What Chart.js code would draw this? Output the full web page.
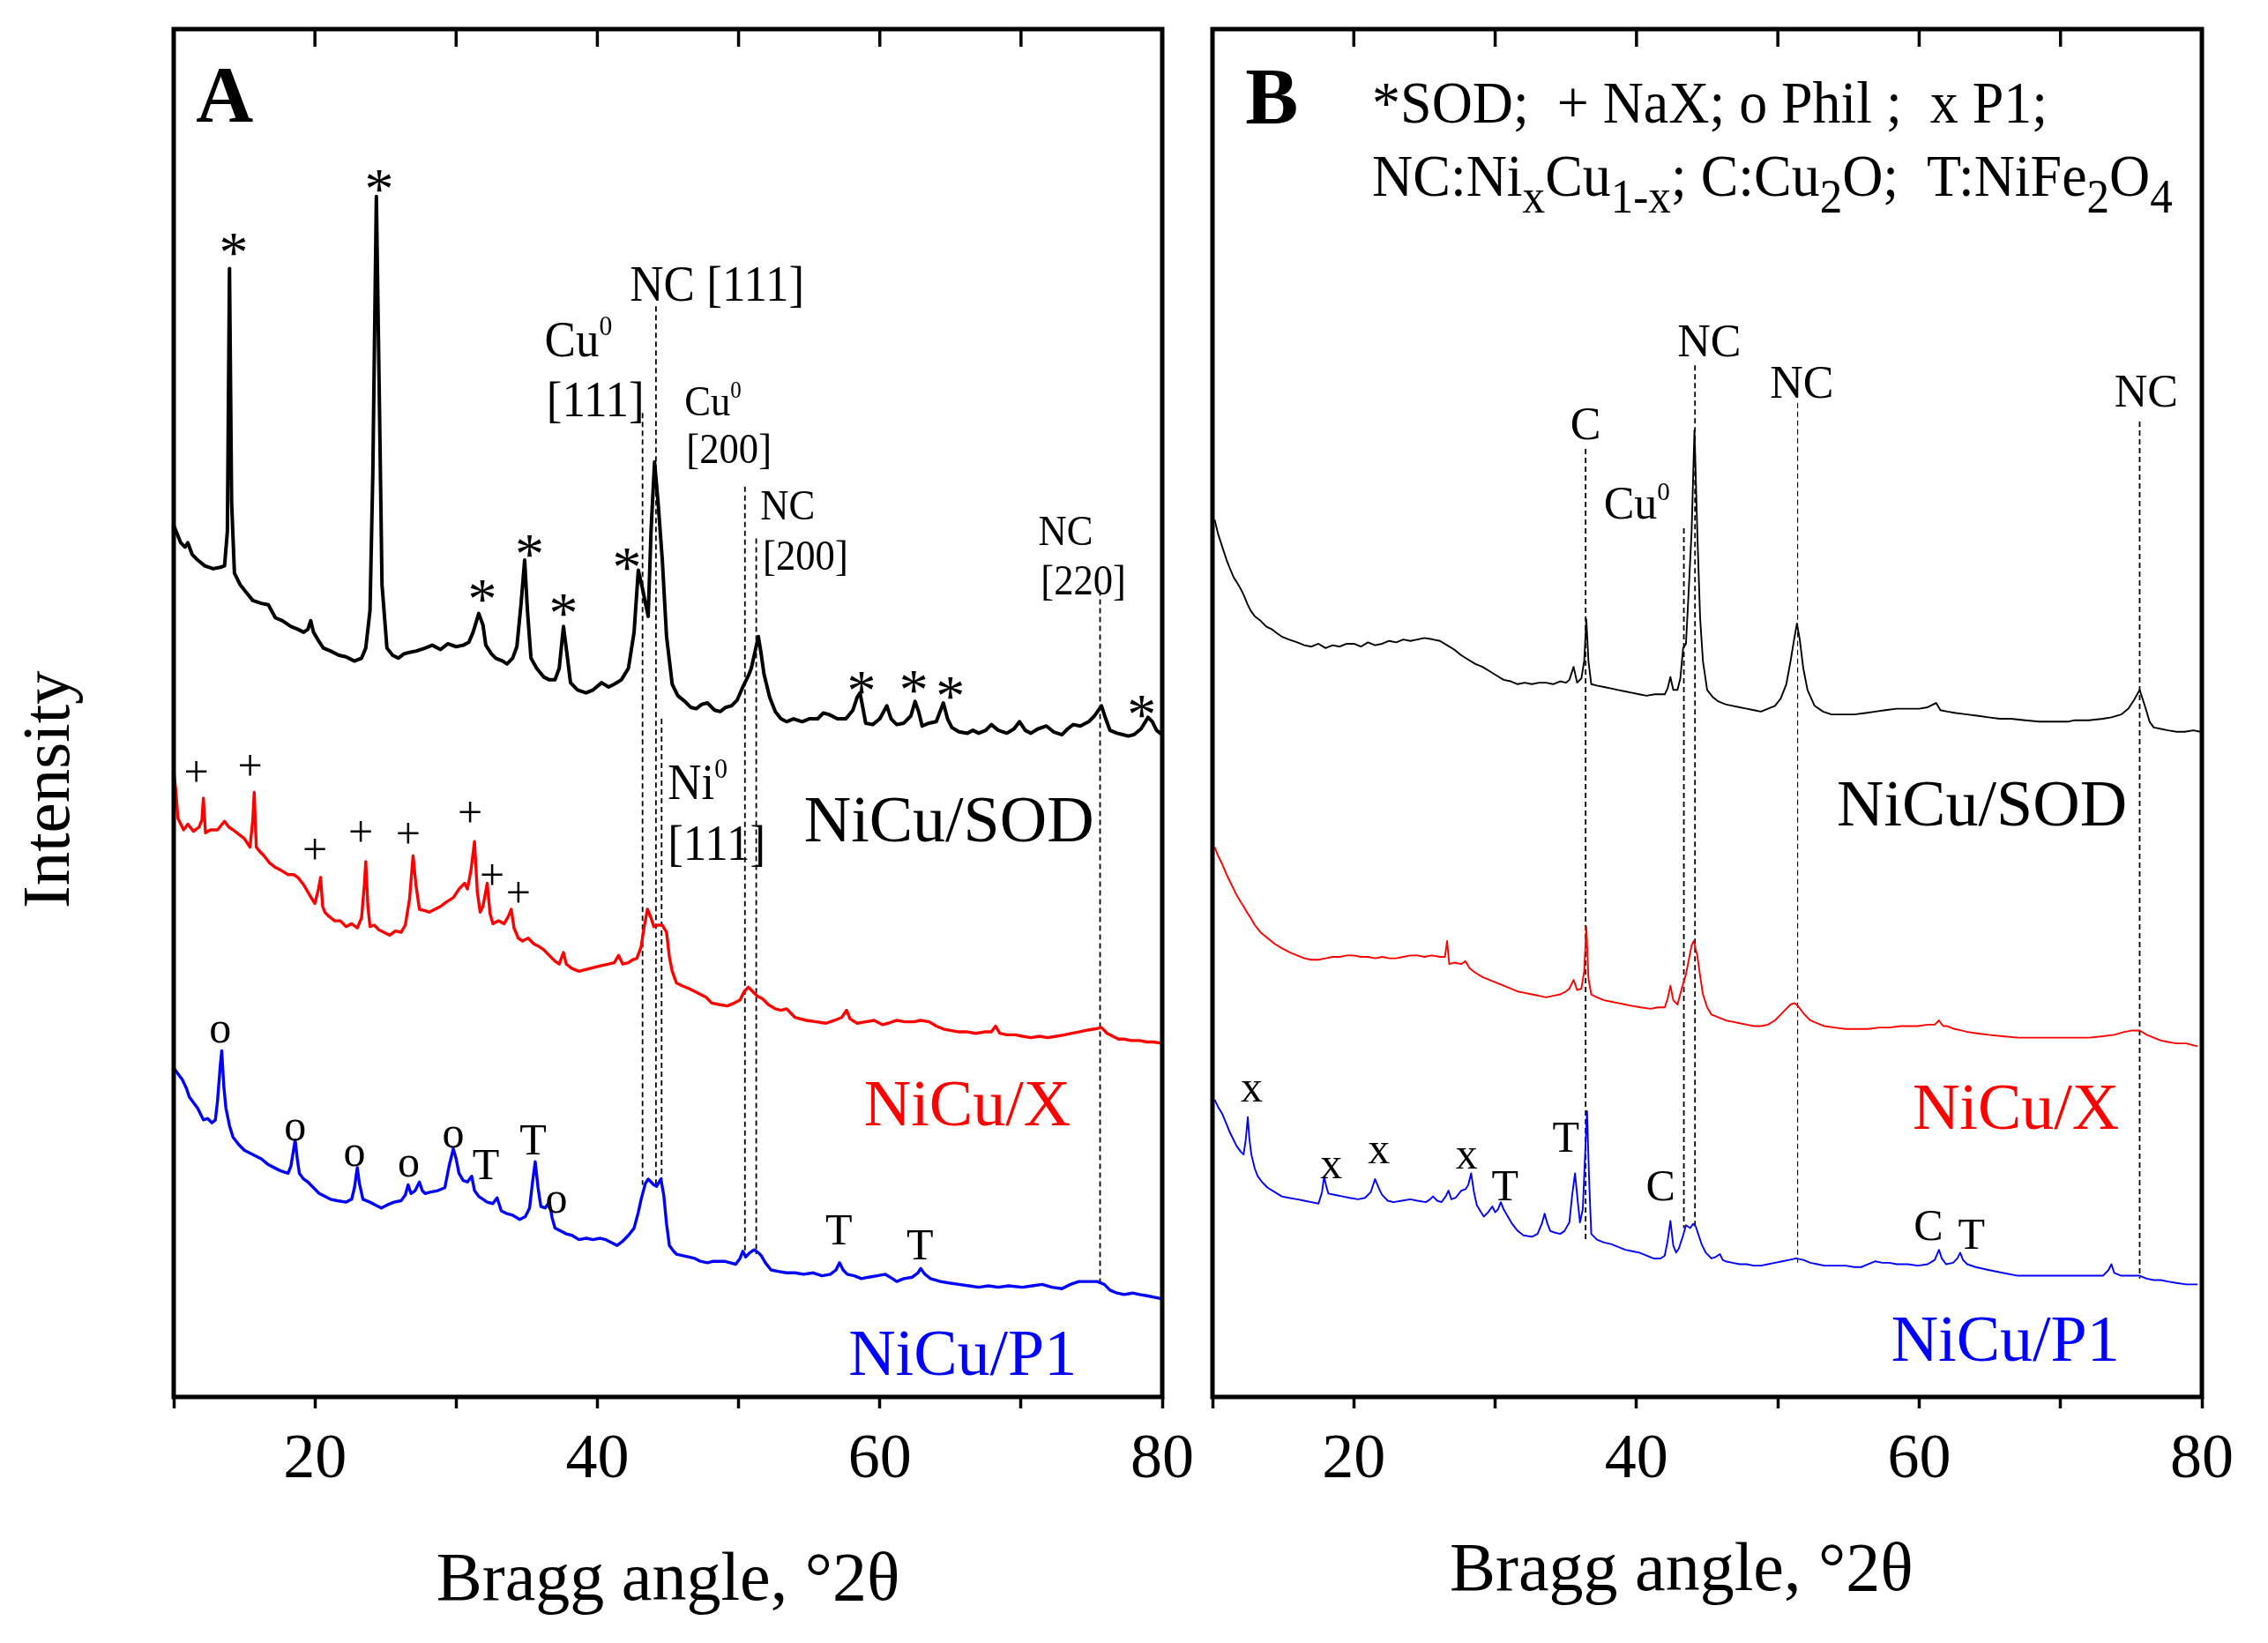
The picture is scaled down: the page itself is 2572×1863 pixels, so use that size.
<!DOCTYPE html>
<html>
<head>
<meta charset="utf-8">
<script src="https://cdn.jsdelivr.net/npm/chart.js@4.4.1/dist/chart.umd.min.js"></script>
<style>
  html, body { margin: 0; padding: 0; background: #fff; }
  .panel { position: absolute; left: 0; top: 0; }
</style>
</head>
<body>
<div class="panel"><canvas id="chartA" width="2572" height="1863"></canvas></div>
<div class="panel"><canvas id="chartB" width="2572" height="1863"></canvas></div>
<script>
// XRD patterns: [2theta, intensity (offset, arb. units)]
const sodA = [[10.0,604],[10.5,592],[10.8,589],[11.0,592],[11.3,584],[11.7,580],[12.2,576],[12.8,574],[13.3,575],[13.6,576],
  [13.8,600],[13.95,782],[14.1,620],[14.3,571],[14.7,563],[15.1,558],[15.6,552],[16.2,550],[16.7,549],[17.2,540],[17.7,538],
  [18.3,534],[18.8,532],[19.2,530],[19.5,532],[19.7,538],[19.9,530],[20.2,525],[20.6,519],[21.1,517],[21.7,514],[22.2,513],
  [22.8,510],[23.3,512],[23.6,519],[23.9,545],[24.1,640],[24.35,832],[24.55,700],[24.75,563],[25.1,519],[25.5,514],[25.9,512],
  [26.3,515],[26.7,516],[27.2,517],[27.8,519],[28.3,521],[28.9,518],[29.4,522],[30.0,520],[30.5,521],[30.9,523],[31.2,530],
  [31.6,543],[31.9,535],[32.1,521],[32.5,515],[32.8,512],[33.3,510],[33.6,508],[34.0,512],[34.3,520],[34.6,550],[34.85,580],
  [35.05,545],[35.3,512],[35.7,505],[36.2,499],[36.6,497],[37.0,497],[37.3,505],[37.6,534],[37.85,515],[38.1,495],[38.6,490],
  [39.2,488],[39.7,490],[40.3,495],[40.8,492],[41.2,494],[41.7,497],[42.2,505],[42.6,530],[42.9,573],[43.2,560],[43.45,548],
  [43.6,541],[43.8,600],[44.05,648],[44.3,620],[44.6,580],[44.9,527],[45.3,494],[45.7,486],[46.2,482],[46.6,478],[47.0,477],
  [47.4,480],[47.8,481],[48.3,476],[48.7,475],[49.1,478],[49.5,479],[49.9,483],[50.3,492],[50.7,500],[50.9,505],[51.2,518],
  [51.4,527],[51.6,515],[51.8,501],[52.2,485],[52.6,475],[53.0,470],[53.4,468],[53.9,470],[54.5,468],[55.0,470],[55.6,470],
  [56.0,474],[56.4,473],[57.0,470],[57.6,470],[58.1,476],[58.4,485],[58.6,488],[58.85,475],[59.0,467],[59.5,466],[60.0,470],
  [60.5,479],[60.8,470],[61.2,466],[61.7,467],[62.2,472],[62.5,482],[62.75,475],[63.0,465],[63.5,467],[64.0,468],[64.5,481],
  [64.8,470],[65.1,464],[65.6,461],[66.2,460],[66.6,462],[67.0,460],[67.5,462],[67.9,466],[68.4,462],[69.0,460],[69.5,463],
  [69.9,468],[70.3,462],[70.7,460],[71.2,463],[71.8,465],[72.3,461],[72.9,459],[73.3,463],[73.7,466],[74.2,465],[74.8,468],
  [75.2,472],[75.7,479],[76.0,470],[76.3,462],[76.8,460],[77.2,459],[77.6,458],[78.0,459],[78.5,463],[79.0,471],[79.3,468],
  [79.6,462],[80.0,459]];

const naxA = [[10.0,434],[10.15,420],[10.3,401],[10.7,393],[11.0,397],[11.4,392],[11.8,395],[12.0,400],[12.1,415],[12.25,391],
  [12.6,393],[13.1,393],[13.6,399],[13.9,395],[14.2,393],[14.6,390],[15.0,387],[15.4,381],[15.6,400],[15.7,419],[15.85,381],
  [16.1,378],[16.4,375],[16.8,370],[17.2,367],[17.6,365],[18.1,362],[18.5,362],[18.8,360],[19.2,355],[19.5,350],[19.8,345],
  [20.0,342],[20.25,352],[20.4,360],[20.55,340],[20.7,336],[21.0,333],[21.4,330],[21.8,330],[22.2,326],[22.6,328],[23.0,325],
  [23.3,332],[23.5,355],[23.6,371],[23.75,340],[23.9,326],[24.2,327],[24.5,324],[24.9,322],[25.3,320],[25.7,323],[26.1,322],
  [26.4,327],[26.7,345],[26.95,375],[27.15,355],[27.4,338],[27.8,337],[28.1,336],[28.5,338],[28.9,340],[29.3,343],[29.8,346],
  [30.2,352],[30.6,356],[30.8,352],[31.05,365],[31.3,385],[31.5,350],[31.7,336],[31.9,340],[32.2,356],[32.4,335],[32.6,328],
  [33.0,330],[33.4,328],[33.7,333],[33.9,338],[34.1,325],[34.4,318],[34.7,316],[35.1,318],[35.5,314],[35.9,312],[36.2,310],
  [36.6,306],[37.0,302],[37.3,300],[37.6,308],[37.8,300],[38.2,297],[38.7,295],[39.1,296],[39.5,297],[39.9,298],[40.3,299],
  [40.8,300],[41.2,301],[41.5,306],[41.8,300],[42.2,301],[42.5,303],[42.8,304],[43.1,312],[43.3,325],[43.55,338],[43.8,332],
  [44.0,326],[44.3,327],[44.6,327],[44.9,322],[45.1,305],[45.3,295],[45.6,287],[46.0,285],[46.5,283],[46.9,281],[47.3,279],
  [47.7,277],[48.1,273],[48.6,272],[49.2,271],[49.7,273],[50.1,275],[50.4,281],[50.7,284],[51.0,281],[51.3,278],[51.7,276],
  [52.1,272],[52.6,269],[53.0,268],[53.4,269],[53.7,266],[54.0,263],[54.4,262],[54.8,261],[55.5,260],[56.2,259],[56.8,261],
  [57.3,263],[57.65,268],[57.9,262],[58.4,259],[59.0,260],[59.6,261],[60.2,258],[60.6,259],[61.2,261],[61.8,260],[62.4,260],
  [62.9,261],[63.5,260],[64.0,257],[64.5,255],[65.0,254],[65.6,253],[66.2,253],[66.8,252],[67.4,253],[67.9,253],[68.2,257],
  [68.5,252],[69.0,251],[69.6,251],[70.1,250],[70.7,249],[71.3,250],[71.9,249],[72.5,250],[73.1,251],[73.6,252],[74.1,253],
  [74.6,254],[75.2,255],[75.7,256],[76.1,252],[76.5,250],[76.9,248],[77.3,248],[77.8,247],[78.4,247],[78.9,246],[79.4,246],
  [80.0,245]];

const p1A = [[10.0,228],[10.3,224],[10.6,220],[10.9,214],[11.1,208],[11.4,204],[11.7,200],[11.9,196],[12.1,192],[12.4,193],
  [12.7,190],[12.95,192],[13.1,205],[13.3,230],[13.4,240],[13.55,215],[13.7,200],[13.95,188],[14.2,180],[14.6,175],[15.0,171],
  [15.4,169],[15.8,167],[16.2,165],[16.7,161],[17.1,159],[17.5,157],[17.8,156],[18.1,155],[18.3,160],[18.5,172],[18.6,178],
  [18.75,165],[18.9,155],[19.2,151],[19.5,149],[19.9,145],[20.3,141],[20.7,139],[21.1,137],[21.6,136],[22.2,135],[22.6,137],
  [22.8,145],[23.0,159],[23.15,148],[23.4,137],[23.9,135],[24.3,133],[24.7,131],[25.1,133],[25.6,135],[26.1,136],[26.4,140],
  [26.6,147],[26.8,141],[27.1,143],[27.4,149],[27.6,143],[27.8,141],[28.2,142],[28.7,143],[29.2,145],[29.5,160],[29.8,172],
  [30.0,165],[30.2,155],[30.5,150],[30.8,149],[31.1,153],[31.3,143],[31.6,139],[31.9,137],[32.2,135],[32.6,134],[32.9,138],
  [33.2,129],[33.6,127],[34.0,126],[34.5,123],[34.9,125],[35.2,131],[35.4,148],[35.6,163],[35.8,145],[36.0,132],[36.3,131],
  [36.6,135],[36.8,124],[37.0,117],[37.4,115],[37.8,113],[38.2,112],[38.7,109],[39.2,110],[39.7,109],[40.2,110],[40.6,109],
  [41.0,107],[41.4,105],[41.8,108],[42.2,112],[42.6,117],[42.9,128],[43.1,137],[43.4,148],[43.6,151],[43.8,149],[44.0,147],
  [44.2,146],[44.5,151],[44.7,140],[44.9,120],[45.1,105],[45.4,101],[45.6,99],[46.0,98],[46.5,97],[46.9,96],[47.3,94],
  [47.8,93],[48.2,94],[48.6,94],[49.0,94],[49.4,93],[49.8,92],[50.1,96],[50.3,101],[50.5,97],[50.8,100],[51.1,102],[51.4,100],
  [51.6,98],[51.9,93],[52.3,88],[52.8,87],[53.4,86],[54.0,86],[54.6,85],[55.3,86],[55.9,84],[56.5,85],[56.9,88],[57.15,93],
  [57.4,88],[57.7,85],[58.2,84],[58.7,82],[59.2,83],[59.8,84],[60.4,85],[60.9,82],[61.2,80],[61.7,82],[62.3,83],[62.7,86],
  [62.9,89],[63.2,85],[63.6,82],[64.3,80],[64.9,79],[65.6,78],[66.3,77],[67.0,76],[67.7,77],[68.4,76],[69.1,77],[70.1,76],
  [70.8,77],[71.5,78],[72.2,76],[72.9,75],[73.5,78],[74.1,80],[74.8,80],[75.4,80],[75.9,78],[76.3,74],[76.8,72],[77.3,71],
  [77.9,72],[78.4,71],[79.0,70],[79.5,69],[80.0,68]];

const sodB = [[10.15,608],[10.4,598],[10.7,589],[11.0,580],[11.2,575],[11.5,568],[11.7,565],[12.0,560],[12.2,556],[12.5,549],
  [12.7,545],[13.0,541],[13.4,538],[13.8,534],[14.2,532],[14.6,529],[14.9,527],[15.4,525],[16.0,523],[16.5,521],[17.0,520],
  [17.5,522],[18.0,519],[18.5,521],[19.0,520],[19.5,522],[20.0,522],[20.5,520],[21.0,523],[21.5,521],[22.0,522],[22.5,524],
  [23.0,523],[23.5,525],[24.0,524],[24.5,525],[25.0,526],[25.6,525],[26.1,524],[26.6,521],[27.1,518],[27.6,514],[28.1,511],
  [28.6,508],[29.1,506],[29.6,503],[30.1,500],[30.6,497],[31.1,496],[31.6,494],[32.1,495],[32.6,494],[33.1,495],[33.6,495],
  [34.1,494],[34.6,496],[35.0,495],[35.25,497],[35.55,506],[35.8,495],[36.1,498],[36.3,510],[36.45,539],[36.6,510],[36.8,494],
  [37.2,493],[37.7,492],[38.2,491],[38.7,490],[39.2,489],[39.7,488],[40.2,487],[40.7,486],[41.3,487],[42.0,487],[42.2,491],
  [42.4,499],[42.6,490],[42.9,490],[43.1,498],[43.3,519],[43.5,522],[43.7,560],[43.9,600],[44.1,670],[44.3,600],[44.5,540],
  [44.7,510],[45.0,490],[45.4,485],[45.8,482],[46.3,480],[46.8,479],[47.3,478],[47.8,477],[48.3,476],[48.8,475],[49.3,477],
  [49.8,479],[50.2,484],[50.6,494],[50.9,510],[51.15,525],[51.35,536],[51.55,525],[51.8,505],[52.1,490],[52.6,479],[53.2,475],
  [53.8,473],[54.5,473],[55.4,473],[56.2,474],[56.9,475],[57.6,476],[58.4,477],[59.2,477],[60.0,477],[60.6,478],[61.2,481],
  [61.5,476],[62.0,475],[62.6,474],[63.4,473],[64.2,472],[64.9,471],[65.7,470],[66.5,470],[67.5,469],[68.5,468],[69.5,468],
  [70.5,468],[71.0,469],[72.0,469],[73.0,470],[73.6,471],[74.3,473],[74.8,477],[75.2,483],[75.6,490],[76.0,478],[76.3,468],
  [76.6,464],[77.1,463],[77.6,462],[78.2,461],[78.8,461],[79.4,462],[79.9,461]];

const naxB = [[10.15,381],[10.4,375],[10.7,369],[11.0,362],[11.2,358],[11.5,352],[11.7,348],[12.0,343],[12.2,340],[12.5,335],
  [12.7,332],[13.0,327],[13.4,322],[13.9,318],[14.4,314],[14.9,311],[15.5,308],[16.0,306],[16.5,304],[17.0,303],[17.5,303],
  [18.0,304],[18.5,305],[19.0,305],[19.5,306],[20.0,306],[20.5,305],[21.0,305],[21.5,304],[22.0,305],[22.5,304],[23.0,304],
  [23.5,305],[24.0,306],[24.5,306],[25.0,305],[25.5,306],[26.1,305],[26.45,305],[26.6,316],[26.75,300],[27.1,301],[27.6,300],
  [27.9,302],[28.2,297],[28.6,294],[29.1,291],[29.6,289],[30.1,287],[30.6,285],[31.1,283],[31.6,281],[32.1,280],[32.6,279],
  [33.1,278],[33.6,277],[34.1,278],[34.6,279],[35.0,281],[35.25,283],[35.55,289],[35.8,282],[36.1,283],[36.3,295],[36.45,326],
  [36.6,290],[36.8,279],[37.2,277],[37.7,275],[38.2,274],[38.7,273],[39.2,272],[39.7,271],[40.3,270],[41.0,269],[41.5,270],
  [42.0,270],[42.2,276],[42.4,285],[42.6,275],[42.9,272],[43.2,283],[43.5,293],[43.7,303],[43.9,313],[44.05,316],[44.3,306],
  [44.5,292],[44.7,279],[45.0,270],[45.3,265],[45.8,263],[46.3,261],[46.8,260],[47.3,259],[47.8,258],[48.3,257],[48.8,257],
  [49.3,258],[49.8,261],[50.2,265],[50.6,269],[50.9,272],[51.2,273],[51.5,270],[51.8,266],[52.3,261],[52.8,259],[53.3,257],
  [54.0,256],[54.8,255],[55.6,255],[56.4,255],[57.2,256],[57.9,256],[58.7,257],[59.4,257],[59.9,257],[60.6,258],[61.1,258],
  [61.4,261],[61.7,257],[62.0,257],[62.5,255],[63.0,254],[63.4,253],[64.1,252],[64.9,251],[65.9,250],[67.0,249],[68.0,249],
  [69.0,249],[70.0,249],[71.0,249],[72.0,249],[73.0,250],[73.8,251],[74.5,253],[75.1,254],[75.6,254],[76.1,251],[76.6,249],
  [77.1,247],[77.6,246],[78.2,245],[78.9,245],[79.3,244],[79.7,243]];

const p1B = [[10.15,206],[10.4,201],[10.7,196],[11.0,189],[11.2,184],[11.5,178],[11.7,174],[12.0,170],[12.2,168],[12.35,178],
  [12.5,194],[12.6,180],[12.75,168],[13.0,158],[13.2,153],[13.5,149],[13.9,145],[14.4,142],[14.9,139],[15.4,138],[16.0,137],
  [16.5,136],[17.0,135],[17.5,134],[17.75,142],[17.9,153],[18.05,146],[18.2,141],[18.7,140],[19.2,139],[19.7,138],[20.3,137],
  [20.8,138],[21.2,142],[21.5,151],[21.8,144],[22.0,140],[22.4,136],[22.8,135],[23.4,136],[24.0,137],[24.5,136],[25.1,135],
  [25.4,137],[25.6,139],[25.9,136],[26.2,135],[26.5,139],[26.7,143],[26.9,137],[27.2,138],[27.6,143],[27.9,144],[28.1,147],
  [28.3,155],[28.5,142],[28.7,133],[29.0,128],[29.2,125],[29.5,128],[29.8,132],[30.0,128],[30.2,130],[30.4,135],[30.6,130],
  [30.9,125],[31.2,120],[31.6,115],[32.0,112],[32.6,111],[33.0,113],[33.3,120],[33.5,127],[33.7,120],[33.9,115],[34.2,114],
  [34.6,113],[34.9,115],[35.25,121],[35.45,140],[35.65,155],[35.85,135],[36.0,121],[36.2,130],[36.35,165],[36.5,198],
  [36.65,150],[36.8,113],[37.2,109],[37.7,107],[38.2,106],[38.7,104],[39.2,102],[39.7,101],[40.2,100],[40.7,98],[41.2,96],
  [41.7,96],[42.0,98],[42.2,108],[42.4,122],[42.6,105],[42.8,100],[43.0,103],[43.3,112],[43.5,119],[43.8,117],[44.0,120],
  [44.2,118],[44.4,112],[44.6,106],[44.9,100],[45.3,96],[45.6,97],[45.9,99],[46.1,95],[46.3,94],[46.8,93],[47.3,92],[47.8,92],
  [48.3,91],[48.8,91],[49.3,92],[49.8,93],[50.3,94],[50.8,95],[51.3,96],[51.8,95],[52.3,93],[52.8,92],[53.3,91],[54.0,91],
  [54.8,91],[55.4,90],[55.9,90],[56.4,92],[56.9,94],[57.4,93],[57.9,93],[58.4,92],[59.2,92],[59.9,91],[60.6,92],[61.1,95],
  [61.4,102],[61.6,96],[61.9,92],[62.4,93],[62.7,96],[62.9,100],[63.1,95],[63.4,92],[64.0,90],[64.9,88],[65.9,86],[67.0,84],
  [68.0,84],[69.0,84],[70.0,84],[71.0,84],[72.0,84],[73.0,84],[73.4,88],[73.6,92],[73.8,86],[74.3,84],[75.1,84],[75.6,84],
  [76.1,82],[76.6,81],[77.1,81],[77.6,80],[78.2,79],[78.9,78],[79.4,78],[79.7,78]];

// dashed reference lines: [2theta, top, bottom, width]
const refA = [[43.2,682,147,1.8],[44.15,756,147,1.8],[44.55,470,147,1.8],[50.45,631,99,1.8],[51.25,595,99,1.8],[75.6,559,78,1.8]];
const refB = [[36.4,657,107,1.8],[43.35,602,117,1.8],[44.14,715,117,1.8],[51.4,689,93,1.1],[75.6,676,82,1.8]];

const xTicks = [10, 20, 30, 40, 50, 60, 70, 80];
const xTickLabels = ['', '20', '', '40', '', '60', '', '80'];
const xTitle = 'Bragg angle, \u00b02\u03b8';

// text labels: [text, 2theta, height, style, align]
const labelsA = [
  ['A', 13.6, 902, 'big'],
  ['NC [111]', 48.48, 771.5, 'pk'],
  ['Cu^{0}', 36.26, 733, 'pk', 'left'],
  ['[111]', 36.4, 691, 'pk', 'left'],
  ['Cu^{0}', 46.17, 690, 'pks', 'left'],
  ['[200]', 46.3, 657, 'pks', 'left'],
  ['NC', 51.54, 618, 'pks', 'left'],
  ['[200]', 51.72, 583, 'pks', 'left'],
  ['NC', 71.22, 600, 'pks', 'left'],
  ['[220]', 71.4, 566, 'pks', 'left'],
  ['Ni^{0}', 44.98, 426, 'pk', 'left'],
  ['[111]', 44.98, 384, 'pk', 'left'],
  ['NiCu/SOD', 64.9, 400, 'sod'],
  ['NiCu/X', 66.2, 203, 'nx'],
  ['NiCu/P1', 65.87, 30, 'p1'],
  ['*', 14.25, 799, 'ast'], ['*', 24.55, 842.7, 'ast'], ['*', 31.86, 558.8, 'ast'], ['*', 35.2, 589.6, 'ast'],
  ['*', 37.6, 548.8, 'ast'], ['*', 42.1, 580.5, 'ast'], ['*', 58.7, 495, 'ast'], ['*', 62.4, 496, 'ast'],
  ['*', 65.0, 491.6, 'ast'], ['*', 78.55, 478.7, 'ast'],
  ['+', 11.6, 431, 'mk'], ['+', 15.4, 435, 'mk'], ['+', 20.0, 377, 'mk'], ['+', 23.24, 389, 'mk'],
  ['+', 26.6, 388, 'mk'], ['+', 30.98, 402.7, 'mk'], ['+', 32.55, 359.4, 'mk'], ['+', 34.4, 346.8, 'mk'],
  ['o', 13.3, 253, 'mk'], ['o', 18.6, 185, 'mk'], ['o', 22.8, 167, 'mk'], ['o', 26.64, 159.7, 'mk'],
  ['o', 29.8, 180, 'mk'], ['o', 37.1, 134.9, 'mk'],
  ['T', 32.1, 161, 'mk'], ['T', 35.45, 178, 'mk'], ['T', 57.1, 116, 'mk'], ['T', 62.84, 105.5, 'mk']
];

const labelsB = [
  ['B', 14.2, 901, 'big'],
  ['*SOD;  + NaX; o Phil ;  x P1;', 21.3, 897, 'leg', 'left'],
  ['NC:Ni_{x}Cu_{1-x}; C:Cu_{2}O;  T:NiFe_{2}O_{4}', 21.3, 846, 'leg', 'left'],
  ['NC', 45.15, 732, 'pkb'],
  ['NC', 51.7, 703, 'pkb'],
  ['NC', 76.06, 697, 'pkb'],
  ['C', 36.4, 674, 'pkb'],
  ['Cu^{0}', 37.68, 619, 'pkb', 'left'],
  ['NiCu/SOD', 64.44, 411, 'sod'],
  ['NiCu/X', 66.84, 201, 'nx'],
  ['NiCu/P1', 66.1, 40, 'p1'],
  ['x', 12.78, 211.6, 'mk'], ['x', 18.4, 158.4, 'mk'], ['x', 21.77, 169, 'mk'], ['x', 27.98, 165.5, 'mk'],
  ['T', 30.7, 146.6, 'mk'], ['T', 35.0, 180, 'mk'], ['T', 63.7, 113, 'mk'],
  ['C', 41.7, 146.6, 'mk'], ['C', 60.66, 119, 'mk']
];

const FONT = '"Liberation Serif", "Times New Roman", serif';
const STYLE = {
  big: { size: 90, bold: true, sx: 1, color: '#000' },
  leg: { size: 68, sx: 0.94, color: '#000' },
  pk:  { size: 57, sx: 0.93, color: '#000' },
  pks: { size: 48, sx: 0.93, color: '#000' },
  pkb: { size: 52, sx: 1, color: '#000' },
  sod: { size: 74, sx: 1, color: '#000' },
  nx:  { size: 74, sx: 1, color: '#ff0000' },
  p1:  { size: 74, sx: 1, color: '#0000ff' },
  mk:  { size: 50, sx: 1, color: '#000' },
  ast: { size: 66, sx: 1, color: '#000' }
};
// where the ink centre of a glyph sits above the baseline, in em
const CENTRE = { '*': 0.47, '+': 0.253, 'o': 0.23, 'x': 0.23 };

function drawRich(ctx, text, px, py, st, align) {
  const parts = [];
  text.split(/(\^\{[^}]*\}|_\{[^}]*\})/).forEach(p => {
    if (!p) return;
    if (p.startsWith('^{')) parts.push([p.slice(2, -1), 0.56, -0.42]);
    else if (p.startsWith('_{')) parts.push([p.slice(2, -1), 0.8, 0.27]);
    else parts.push([p, 1, 0]);
  });
  const fontOf = k => (st.bold ? 'bold ' : '') + (st.size * k) + 'px ' + FONT;
  let w = 0;
  parts.forEach(p => { ctx.font = fontOf(p[1]); p.push(ctx.measureText(p[0]).width); w += p[3]; });
  const vc = CENTRE[text] !== undefined ? CENTRE[text] : 0.331;
  const base = py + vc * st.size;
  const x0 = align === 'left' ? px : px - w * st.sx / 2;
  ctx.save();
  ctx.translate(x0, base);
  ctx.scale(st.sx, 1);
  ctx.fillStyle = st.color;
  ctx.textAlign = 'left';
  ctx.textBaseline = 'alphabetic';
  let cx = 0;
  parts.forEach(p => {
    ctx.font = fontOf(p[1]);
    ctx.fillText(p[0], cx, p[2] * st.size);
    cx += p[3];
  });
  ctx.restore();
}

function overlay(labels, yTitle) {
  return {
    id: 'overlay',
    afterDatasetsDraw(chart) {
      const { ctx, chartArea: a, scales: { x, y } } = chart;
      labels.forEach(l => drawRich(ctx, l[0], x.getPixelForValue(l[1]), y.getPixelForValue(l[2]), STYLE[l[3]], l[4]));
      ctx.save();
      if (yTitle) {
        ctx.translate(a.left - 139, y.getPixelForValue(421));
        ctx.rotate(-Math.PI / 2);
        ctx.font = '77px ' + FONT;
        ctx.fillStyle = '#000';
        ctx.textAlign = 'center';
        ctx.textBaseline = 'middle';
        ctx.fillText(yTitle, 0, 0);
        ctx.setTransform(1, 0, 0, 1, 0, 0);
      }
      ctx.strokeStyle = '#000';
      ctx.lineWidth = 5;
      ctx.strokeRect(a.left, a.top, a.width, a.height);
      ctx.lineWidth = 3.5;
      xTicks.slice(1, -1).forEach(v => {
        const px = x.getPixelForValue(v);
        ctx.beginPath();
        ctx.moveTo(px, a.top);
        ctx.lineTo(px, a.top + 20);
        ctx.stroke();
      });
      ctx.restore();
    }
  };
}

function traceSet(points, color, width) {
  return {
    data: points.map(p => ({ x: p[0], y: p[1] })),
    borderColor: color, borderWidth: width, pointRadius: 0, tension: 0,
    borderJoinStyle: 'round', fill: false
  };
}
function refSet(r) {
  return {
    data: [{ x: r[0], y: r[1] }, { x: r[0], y: r[2] }],
    borderColor: '#000', borderWidth: r[3], borderDash: [6, 4], pointRadius: 0, fill: false
  };
}

function makeChart(id, traces, refs, labels, pad, titlePad, yTitle) {
  const datasets = traces.map(t => traceSet(t[0], t[1], t[2])).concat(refs.map(refSet));
  return new Chart(document.getElementById(id).getContext('2d'), {
    type: 'line',
    data: { datasets },
    options: {
      responsive: false,
      animation: false,
      devicePixelRatio: 1,
      layout: { padding: pad },
      plugins: { legend: { display: false }, tooltip: { enabled: false } },
      scales: {
        x: {
          type: 'linear', min: 10, max: 80,
          afterBuildTicks: s => { s.ticks = xTicks.map(v => ({ value: v })); },
          ticks: {
            autoSkip: false, maxRotation: 0, padding: 16, color: '#000',
            font: { family: FONT, size: 72 },
            callback: v => xTickLabels[xTicks.indexOf(v)]
          },
          grid: { drawOnChartArea: false, drawTicks: true, tickLength: 13, tickWidth: 3.5, tickColor: '#000' },
          border: { display: false },
          title: { display: true, text: xTitle + titlePad.extra, color: '#000',
                   font: { family: FONT, size: 78 }, padding: { top: titlePad.top, bottom: titlePad.bottom } }
        },
        y: { display: false, min: 0, max: 948 }
      }
    },
    plugins: [overlay(labels, yTitle)]
  });
}

makeChart('chartA',
  [[sodA, '#000000', 4], [naxA, '#ff0000', 3.4], [p1A, '#0000ff', 3.4]],
  refA, labelsA,
  { left: 197, right: 2572 - 1318, top: 33, bottom: 23 },
  { top: 31, bottom: 0, extra: '' }, 'Intensity');

makeChart('chartB',
  [[sodB, '#000000', 1.9], [naxB, '#ff0000', 1.9], [p1B, '#0000ff', 1.9]],
  refB, labelsB,
  { left: 1375, right: 2572 - 2497, top: 33, bottom: 23 },
  { top: 20, bottom: 11, extra: '   ' }, null);
</script>
</body>
</html>
